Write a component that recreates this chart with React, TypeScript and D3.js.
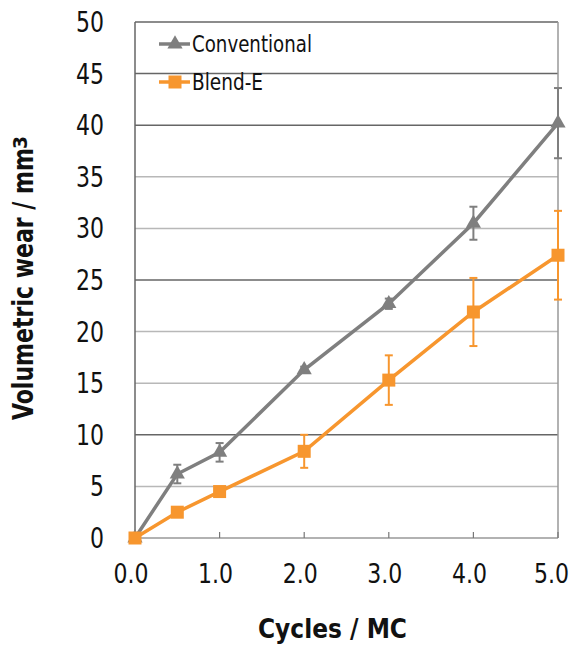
import React from "react";
import * as d3 from "d3";

const cycles = [0, 0.5, 1, 2, 3, 4, 5];
const conventional = [0, 6.2, 8.3, 16.3, 22.7, 30.5, 40.2];
const conventionalErr = [0, 0.9, 0.9, 0.3, 0.5, 1.6, 3.4];
const blendE = [0, 2.5, 4.5, 8.4, 15.3, 21.9, 27.4];
const blendEErr = [0, 0, 0, 1.6, 2.4, 3.3, 4.3];
const yTicks = [0, 5, 10, 15, 20, 25, 30, 35, 40, 45, 50];
const xTicks = [0, 1, 2, 3, 4, 5];
const darkGrid = [10, 25, 40, 45];

const W = 572, H = 645;
const m = { left: 135, right: 558, top: 22, bottom: 538 };
const GRAY = "#7f7f7f";
const ORANGE = "#f7962e";
const FONT = "'DejaVu Sans Condensed', 'DejaVu Sans', Arial, sans-serif";

export default function App() {
  const x = d3.scaleLinear().domain([0, 5]).range([m.left, m.right]);
  const y = d3.scaleLinear().domain([0, 50]).range([m.bottom, m.top]);
  const line = d3.line<[number, number]>().x(d => x(d[0])).y(d => y(d[1]));
  const tri = d3.symbol().type(d3.symbolTriangle).size(100)()!;
  const sq = 13;

  const series = [
    { name: "Conventional", vals: conventional, err: conventionalErr, color: GRAY, marker: "tri", len: 120 },
    { name: "Blend-E", vals: blendE, err: blendEErr, color: ORANGE, marker: "sq", len: 71 },
  ];

  return (
    <svg width={W} height={H} style={{ position: "absolute", left: 0, top: 0, background: "#fff" }}>
      {/* grid */}
      {yTicks.filter(t => t > 0 && t < 50).map(t => (
        <line key={t} x1={m.left} x2={m.right} y1={y(t)} y2={y(t)}
          stroke={darkGrid.includes(t) ? "#666" : "#b8b8b8"} strokeWidth={1.5} />
      ))}
      <line x1={m.left} x2={m.right} y1={y(50)} y2={y(50)} stroke="#666" strokeWidth={1.5} />
      <line x1={m.right} x2={m.right} y1={y(50)} y2={y(0)} stroke="#999" strokeWidth={1.5} />
      <line x1={m.left} x2={m.left} y1={y(50)} y2={y(0)} stroke="#666" strokeWidth={1.5} />
      <line x1={m.left} x2={m.right} y1={y(0)} y2={y(0)} stroke="#999" strokeWidth={1.5} />
      {xTicks.filter(t => t > 0).map(t => (
        <line key={t} x1={x(t)} x2={x(t)} y1={y(0)} y2={y(0) - 6} stroke="#777" strokeWidth={1.2} />
      ))}
      {/* y tick labels */}
      {yTicks.map(t => (
        <text key={t} x={104} y={y(t) + 10} textAnchor="end" fontFamily={FONT} fontSize={28}
          textLength={String(t).length * 14} lengthAdjust="spacingAndGlyphs" fill="#111">{t}</text>
      ))}
      {xTicks.map(t => (
        <text key={t} x={Math.min(x(t) - 4 - 17.5, 534)} y={583} fontFamily={FONT} fontSize={27}
          textLength={35} lengthAdjust="spacingAndGlyphs" fill="#111">{t.toFixed(1)}</text>
      ))}
      <text x={258} y={638} fontFamily={FONT} fontWeight="bold" fontSize={26}
        textLength={149} lengthAdjust="spacingAndGlyphs" fill="#111">Cycles / MC</text>
      <text transform={`translate(33, 420) rotate(-90)`} fontFamily={FONT} fontWeight="bold" fontSize={28}
        textLength={272} lengthAdjust="spacingAndGlyphs" fill="#111">Volumetric wear / mm</text>
      <text transform={`translate(27, 149) rotate(-90)`} fontFamily={FONT} fontWeight="bold" fontSize={20}
        textLength={13} lengthAdjust="spacingAndGlyphs" fill="#111">3</text>
      {/* series */}
      {series.map(s => {
        const pts = cycles.map((c, i) => [c, s.vals[i]] as [number, number]);
        return (
          <g key={s.name}>
            {cycles.map((c, i) => s.err[i] > 0 ? (
              <g key={i} stroke={s.color} strokeWidth={2}>
                <line x1={x(c)} x2={x(c)} y1={y(s.vals[i] + s.err[i])} y2={y(s.vals[i] - s.err[i])} />
                <line x1={x(c) - 4} x2={x(c) + 4} y1={y(s.vals[i] + s.err[i])} y2={y(s.vals[i] + s.err[i])} />
                <line x1={x(c) - 4} x2={x(c) + 4} y1={y(s.vals[i] - s.err[i])} y2={y(s.vals[i] - s.err[i])} />
              </g>
            ) : null)}
            <path d={line(pts)!} fill="none" stroke={s.color} strokeWidth={3.5} />
            {pts.map((p, i) => s.marker === "tri" ? (
              <path key={i} d={tri} transform={`translate(${x(p[0])},${y(p[1])})`} fill={s.color} />
            ) : (
              <rect key={i} x={x(p[0]) - sq / 2} y={y(p[1]) - sq / 2} width={sq} height={sq} fill={s.color} />
            ))}
          </g>
        );
      })}
      {/* legend */}
      {series.map((s, i) => {
        const ly = 44 + i * 38;
        return (
          <g key={s.name}>
            <line x1={159} x2={190} y1={ly} y2={ly} stroke={s.color} strokeWidth={3.5} />
            {s.marker === "tri" ? (
              <path d={tri} transform={`translate(175,${ly})`} fill={s.color} />
            ) : (
              <rect x={175 - sq / 2} y={ly - sq / 2} width={sq} height={sq} fill={s.color} />
            )}
            <text x={192} y={ly + 8} fontFamily={FONT} fontSize={23} textLength={s.len}
              lengthAdjust="spacingAndGlyphs" fill="#111">{s.name}</text>
          </g>
        );
      })}
    </svg>
  );
}
